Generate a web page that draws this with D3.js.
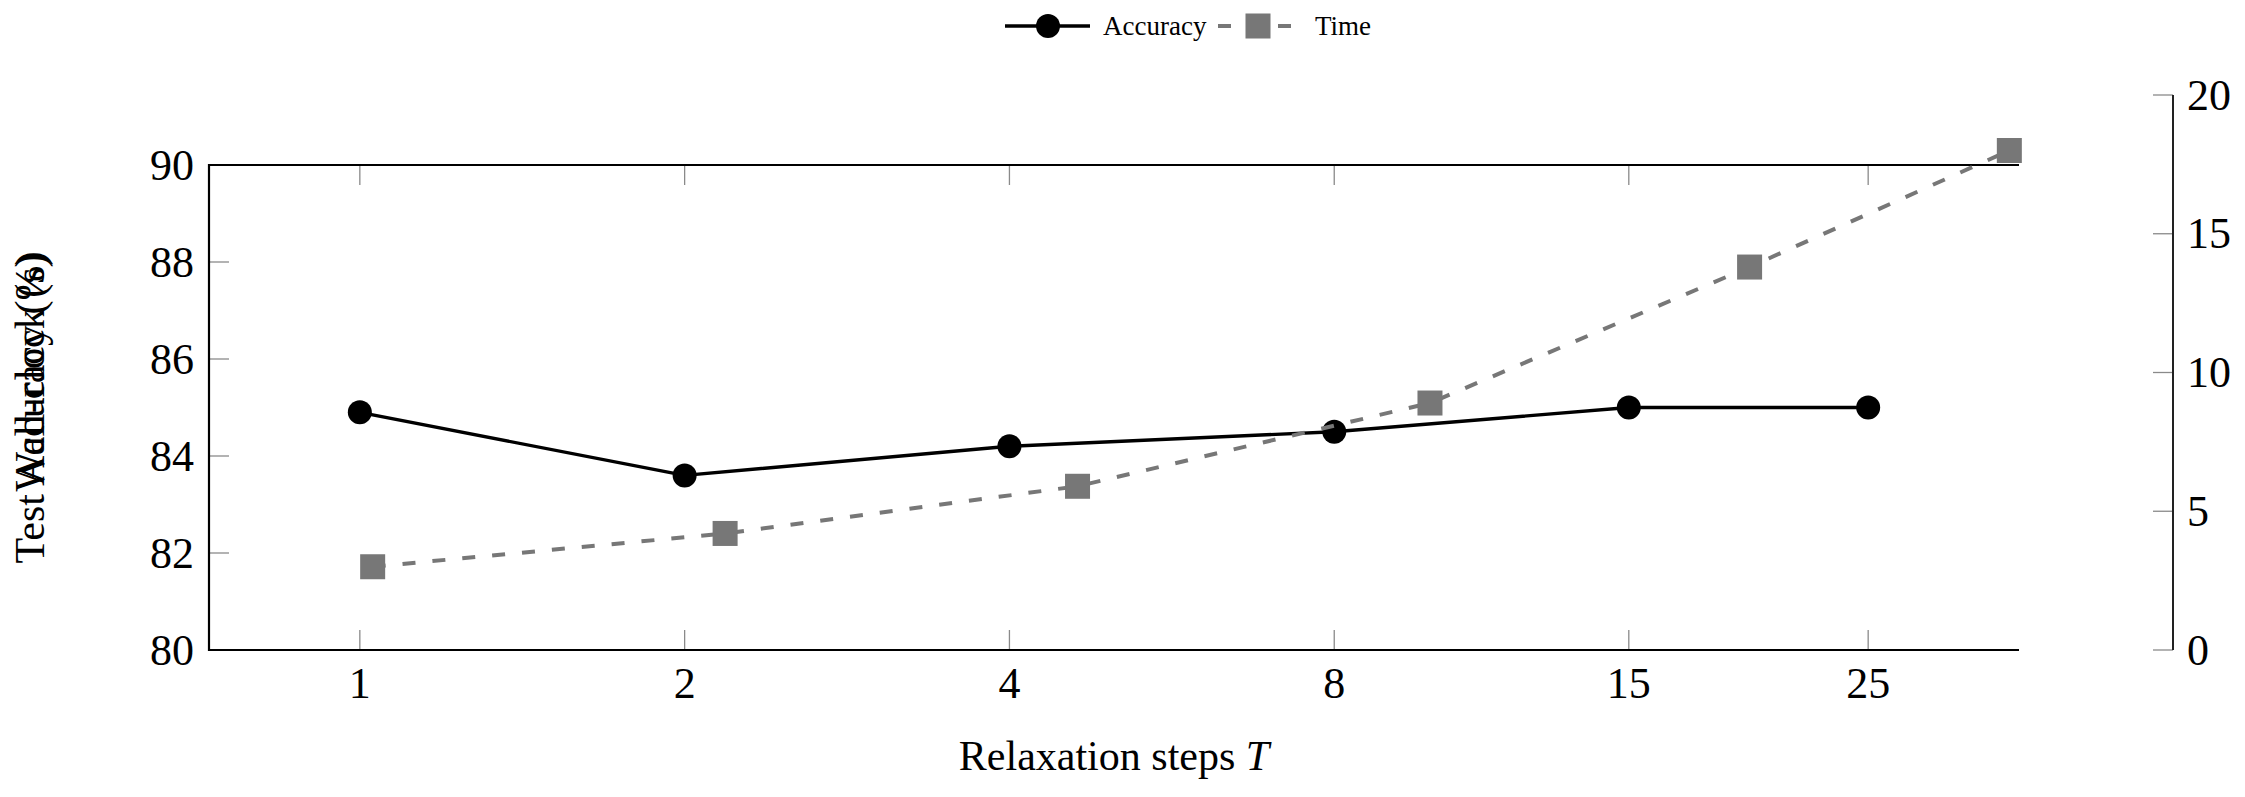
<!DOCTYPE html>
<html>
<head>
<meta charset="utf-8">
<script src="https://cdn.jsdelivr.net/npm/d3@7"></script>
<style>
  html, body { margin: 0; padding: 0; background: #fff; }
  svg { display: block; }
  text { font-family: "Liberation Serif", "DejaVu Serif", serif; fill: #000; }
</style>
</head>
<body>
<svg id="chart" width="2245" height="797"></svg>
<script>
// ---- data ----
const steps = [1, 2, 4, 8, 15, 25];
const accuracy = [84.9, 83.6, 84.2, 84.5, 85.0, 85.0];
const wallClock = [3.0, 4.2, 5.9, 8.9, 13.8, 18.0];
const accTicks = [80, 82, 84, 86, 88, 90];
const timeTicks = [0, 5, 10, 15, 20];
const stepTickLabels = ["1", "2", "4", "8", "15", "25"];
const seriesNames = ["Accuracy", "Time"];

// ---- layout ----
const left = 209, right1 = 2019, right2 = 2173;
const top1 = 165, top2 = 95, bottom = 650;
const gray = "#777777";
const tickGray = "#8a8a8a";
const tickFont = 44;

const svg = d3.select("#chart");

// log-x with 10% enlarged limits (as in the source)
const lo = Math.log2(d3.min(steps)), hi = Math.log2(d3.max(steps));
const pad = 0.1 * (hi - lo);
const xDomain = [Math.pow(2, lo - pad), Math.pow(2, hi + pad)];
const x1 = d3.scaleLog().base(2).domain(xDomain).range([left, right1]);
const x2 = d3.scaleLog().base(2).domain(xDomain).range([left, right2]);
const y1 = d3.scaleLinear().domain([80, 90]).range([bottom, top1]);
const y2 = d3.scaleLinear().domain([0, 20]).range([bottom, top2]);

// ---- first axis: ticks ----
const tickLen = 20;
const gA = svg.append("g");
gA.selectAll("line.yt").data(accTicks).join("line")
  .attr("x1", left).attr("x2", left + tickLen)
  .attr("y1", d => y1(d)).attr("y2", d => y1(d))
  .attr("stroke", tickGray).attr("stroke-width", 1.3);
gA.selectAll("text.yl").data(accTicks).join("text")
  .attr("x", left - 15).attr("y", d => y1(d))
  .attr("text-anchor", "end").attr("dominant-baseline", "central")
  .attr("font-size", tickFont).text(d => d);
steps.forEach((s, i) => {
  gA.append("line").attr("x1", x1(s)).attr("x2", x1(s))
    .attr("y1", bottom).attr("y2", bottom - tickLen)
    .attr("stroke", tickGray).attr("stroke-width", 1.3);
  gA.append("line").attr("x1", x1(s)).attr("x2", x1(s))
    .attr("y1", top1).attr("y2", top1 + tickLen)
    .attr("stroke", tickGray).attr("stroke-width", 1.3);
  gA.append("text").attr("x", x1(s)).attr("y", bottom + 48)
    .attr("text-anchor", "middle").attr("font-size", tickFont).text(stepTickLabels[i]);
});
gA.append("path")
  .attr("d", `M${right1},${top1}H${left}V${bottom}H${right1}`)
  .attr("fill", "none").attr("stroke", "#000").attr("stroke-width", 2.2);

// axis labels
const xl = svg.append("text").attr("x", (left + right1) / 2).attr("y", 770)
  .attr("text-anchor", "middle").attr("font-size", 42);
xl.append("tspan").text("Relaxation steps ");
xl.append("tspan").attr("font-style", "italic").text("T");

svg.append("text")
  .attr("transform", `translate(44,${(top1 + bottom) / 2}) rotate(-90)`)
  .attr("text-anchor", "middle").attr("font-size", 42).text("Test Accuracy (%)");
svg.append("text")
  .attr("transform", `translate(44,${(top2 + bottom) / 2}) rotate(-90)`)
  .attr("text-anchor", "middle").attr("font-size", 42).text("Wall-clock (s)");

// ---- accuracy series ----
const accLine = d3.line().x((d, i) => x1(steps[i])).y(d => y1(d));
svg.append("path").datum(accuracy).attr("d", accLine)
  .attr("fill", "none").attr("stroke", "#000").attr("stroke-width", 3.4)
  .attr("stroke-linejoin", "round");
svg.selectAll("circle.acc").data(accuracy).join("circle")
  .attr("cx", (d, i) => x1(steps[i])).attr("cy", d => y1(d))
  .attr("r", 12).attr("fill", "#000");

// ---- time series (second axis) ----
const timeLine = d3.line().x((d, i) => x2(steps[i])).y(d => y2(d));
svg.append("path").datum(wallClock).attr("d", timeLine)
  .attr("fill", "none").attr("stroke", gray).attr("stroke-width", 4)
  .attr("stroke-dasharray", "13,17");
const sq = 12.5;
svg.selectAll("rect.time").data(wallClock).join("rect")
  .attr("x", (d, i) => x2(steps[i]) - sq).attr("y", d => y2(d) - sq)
  .attr("width", 2 * sq).attr("height", 2 * sq).attr("fill", gray);

// right axis
const gB = svg.append("g");
gB.selectAll("line.rt").data(timeTicks).join("line")
  .attr("x1", right2 - tickLen).attr("x2", right2)
  .attr("y1", d => y2(d)).attr("y2", d => y2(d))
  .attr("stroke", tickGray).attr("stroke-width", 1.3);
gB.append("line").attr("x1", right2).attr("x2", right2)
  .attr("y1", top2).attr("y2", bottom)
  .attr("stroke", "#222").attr("stroke-width", 2);
gB.selectAll("text.rl").data(timeTicks).join("text")
  .attr("x", right2 + 14).attr("y", d => y2(d))
  .attr("text-anchor", "start").attr("dominant-baseline", "central")
  .attr("font-size", tickFont).text(d => d);

// ---- legend ----
const ly = 26;
const lg = svg.append("g");
lg.append("line").attr("x1", 1005).attr("x2", 1090).attr("y1", ly).attr("y2", ly)
  .attr("stroke", "#000").attr("stroke-width", 3.4);
lg.append("circle").attr("cx", 1048).attr("cy", ly).attr("r", 12).attr("fill", "#000");
lg.append("text").attr("x", 1103).attr("y", ly).attr("dominant-baseline", "central")
  .attr("font-size", 27).text(seriesNames[0]);
lg.append("line").attr("x1", 1218).attr("x2", 1295).attr("y1", ly).attr("y2", ly)
  .attr("stroke", gray).attr("stroke-width", 4).attr("stroke-dasharray", "13,17");
lg.append("rect").attr("x", 1258 - sq).attr("y", ly - sq).attr("width", 2 * sq)
  .attr("height", 2 * sq).attr("fill", gray);
lg.append("text").attr("x", 1315).attr("y", ly).attr("dominant-baseline", "central")
  .attr("font-size", 27).text(seriesNames[1]);
</script>
</body>
</html>
